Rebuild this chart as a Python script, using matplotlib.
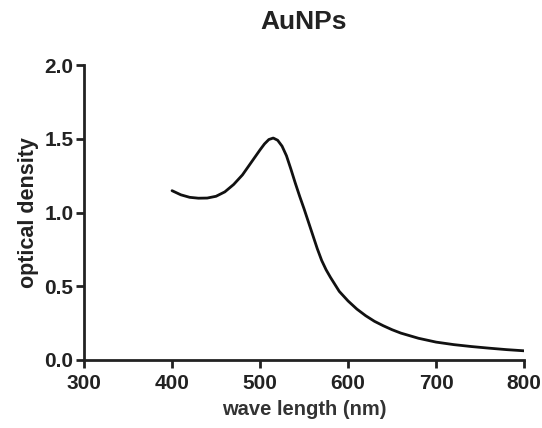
import matplotlib
matplotlib.use("Agg")
import matplotlib.pyplot as plt

wavelength = [400, 410, 420, 430, 440, 450, 460, 470, 480, 490, 500, 505, 510, 515,
              520, 525, 530, 535, 540, 545, 550, 555, 560, 565, 570, 575, 580, 590,
              600, 610, 620, 630, 640, 650, 660, 680, 700, 720, 740, 760, 780, 800]
optical_density = [1.148, 1.12, 1.103, 1.097, 1.098, 1.11, 1.14, 1.19, 1.255, 1.34, 1.425,
                   1.465, 1.495, 1.505, 1.49, 1.45, 1.385, 1.295, 1.20, 1.11, 1.025, 0.935,
                   0.845, 0.755, 0.675, 0.612, 0.56, 0.465, 0.40, 0.345, 0.30, 0.262,
                   0.232, 0.205, 0.182, 0.147, 0.121, 0.104, 0.091, 0.08, 0.07, 0.062]
xticks = [300, 400, 500, 600, 700, 800]
yticks = [0.0, 0.5, 1.0, 1.5, 2.0]

plt.rcParams['font.family'] = ['Liberation Sans', 'DejaVu Sans']
plt.rcParams['font.weight'] = 'bold'

fig = plt.figure(figsize=(5.42, 4.28), dpi=100)
ax = fig.add_axes([0.155, 0.159, 0.812, 0.689])
ax.plot(wavelength, optical_density, color='#111111', lw=2.0,
        solid_capstyle='round', solid_joinstyle='round')

ax.set_xlim(300, 800)
ax.set_ylim(0, 2.0)
ax.set_xticks(xticks)
ax.set_yticks(yticks)
ax.set_xticklabels([str(v) for v in xticks])
ax.set_yticklabels([f"{v:.1f}" for v in yticks])
for s in ['top', 'right']:
    ax.spines[s].set_visible(False)
for s in ['left', 'bottom']:
    ax.spines[s].set_linewidth(2.0)
    ax.spines[s].set_color('#222222')
ax.tick_params(axis='y', direction='out', length=6, width=2, colors='#222222',
               labelsize=15, pad=1.5)
ax.tick_params(axis='x', direction='out', length=6, width=2, colors='#222222',
               labelsize=15, pad=4)
for lab in ax.get_xticklabels() + ax.get_yticklabels():
    lab.set_fontweight('bold')

ax.set_xlabel('wave length (nm)', fontsize=14.5, fontweight='bold', color='#333333', labelpad=5)
ax.set_ylabel('optical density', fontsize=15.5, fontweight='bold', color='#222222', labelpad=4)
ax.set_title('AuNPs', fontsize=19, fontweight='bold', color='#222222', pad=26)

fig.savefig('out.png', dpi=100, facecolor='white')
